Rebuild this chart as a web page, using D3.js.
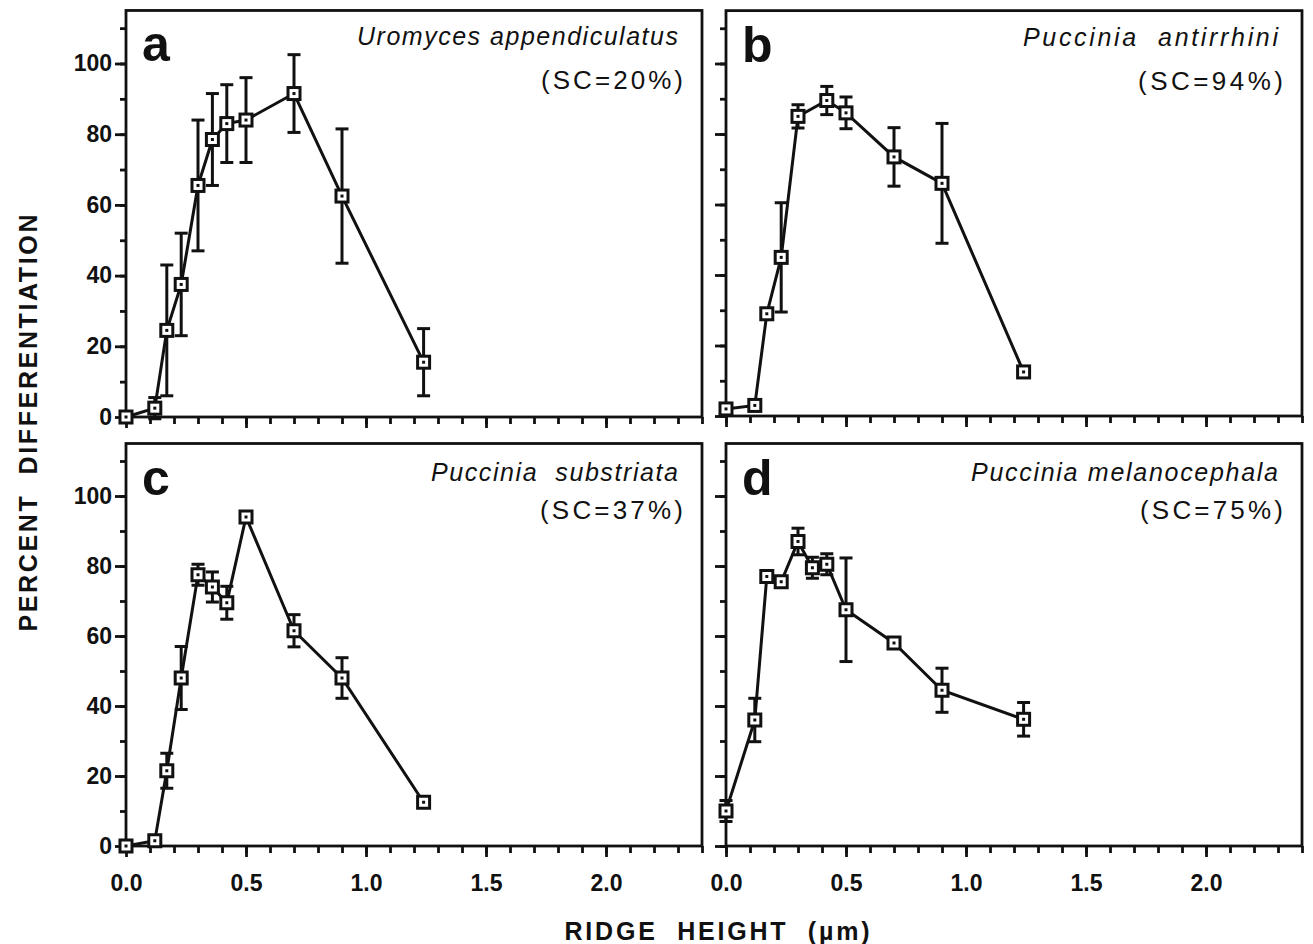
<!DOCTYPE html>
<html>

<head>
    <meta charset="UTF-8">
    <title>Ridge height</title>
    <style>
        body {
            margin: 0;
            background: #fff;
        }

        svg {
            display: block;
            font-family: 'Liberation Sans', Arial, Helvetica, sans-serif;
        }

        .axis path {
            display: none;
        }

        .axis line {
            stroke: #111;
            stroke-width: 2.8px;
        }

        .axis text {
            font-size: 23px;
            font-weight: bold;
            fill: #111;
        }

        .frame {
            fill: none;
            stroke: #111;
            stroke-width: 2.8px;
        }

        .line {
            fill: none;
            stroke: #111;
            stroke-width: 3px;
        }

        .err {
            stroke: #111;
            stroke-width: 3px;
        }

        .marker {
            fill: #fff;
            stroke: #111;
            stroke-width: 3px;
        }

        .species {
            font-size: 25px;
            font-style: italic;
            white-space: pre;
            fill: #111;
        }

        .sc {
            font-size: 26px;
            fill: #111;
        }

        .letter {
            font-size: 50px;
            font-weight: bold;
            fill: #111;
        }

        .title {
            font-size: 25px;
            font-weight: bold;
            white-space: pre;
            fill: #111;
        }
    </style>
</head>

<body>
    <script src="https://cdn.jsdelivr.net/npm/d3@7"></script>

    <script>
        // ridge height (um) of the sampled surfaces
        const ridgeHeight = [0, 0.12, 0.17, 0.23, 0.30, 0.36, 0.42, 0.50, 0.70, 0.90, 1.24];
        const ridgeHeightB = [0, 0.12, 0.17, 0.23, 0.30, 0.42, 0.50, 0.70, 0.90, 1.24];

        // percent differentiation, mean and error
        const meanA = [0, 2.5, 24.5, 37.5, 65.5, 78.5, 83, 84, 91.5, 62.5, 15.5];
        const errA = [0, 3, 18.5, 14.5, 18.5, 13, 11, 12, 11, 19, 9.5];

        const meanB = [2, 3, 29, 45, 85, 89.5, 86, 73.5, 66, 12.5];
        const errB = [0, 0, 0, 15.5, 3.3, 4, 4.5, 8.3, 17, 0];

        const meanC = [0, 1.5, 21.5, 48, 77.5, 74, 69.5, 94, 61.5, 48, 12.5];
        const errC = [0, 0, 5, 9, 3, 4.3, 4.7, 0, 4.6, 5.8, 0];

        const meanD = [10, 36, 77, 75.5, 87, 79.5, 80.5, 67.5, 58, 44.5, 36.2];
        const errD = [3, 6.2, 0, 0, 3.8, 3, 3, 14.8, 0, 6.3, 4.8];

        const letters = ['a', 'b', 'c', 'd'];
        const species = ['Uromyces appendiculatus', 'Puccinia  antirrhini', 'Puccinia  substriata', 'Puccinia melanocephala'];
        const scLabels = ['(SC=20%)', '(SC=94%)', '(SC=37%)', '(SC=75%)'];

        const xTicks = [0, 0.5, 1.0, 1.5, 2.0];
        const yTicks = [0, 20, 40, 60, 80, 100];

        const panels = [
            { x: ridgeHeight, mean: meanA, err: errA },
            { x: ridgeHeightB, mean: meanB, err: errB },
            { x: ridgeHeight, mean: meanC, err: errC },
            { x: ridgeHeight, mean: meanD, err: errD }
        ];

        // page layout of the four boxes
        const boxes = [
            { left: 126, zero: 417, hundred: 63.5, sp: 35, sc: 79, spLen: 321, scLen: 142, yLabels: true, xLabels: false },
            { left: 726, zero: 416, hundred: 63.5, sp: 35, sc: 79, spLen: 255, scLen: 145, yLabels: false, xLabels: false },
            { left: 126, zero: 846, hundred: 496, sp: 37, sc: 75, spLen: 247, scLen: 143, yLabels: true, xLabels: true },
            { left: 726, zero: 846, hundred: 496, sp: 37, sc: 75, spLen: 307, scLen: 143, yLabels: false, xLabels: true }
        ];

        const svg = d3.select('body')
            .append('svg')
            .attr('width', 1313)
            .attr('height', 944);

        panels.forEach((p, i) => drawPanel(p, boxes[i], i));

        function drawPanel(p, box, i) {
            const x = d3.scaleLinear()
                .domain([0, 2.4])
                .range([box.left, box.left + 576]);

            const y = d3.scaleLinear()
                .domain([0, 100])
                .range([box.zero, box.hundred]);

            const top = y(115);
            const g = svg.append('g');

            // minor ticks
            g.append('g')
                .attr('class', 'axis')
                .attr('transform', `translate(0,${ box.zero })`)
                .call(d3.axisBottom(x).tickValues(d3.range(25).map(k => k / 10)).tickSize(7).tickFormat(''));

            g.append('g')
                .attr('class', 'axis')
                .attr('transform', `translate(${ box.left },0)`)
                .call(d3.axisLeft(y).tickValues(d3.range(12).map(k => k * 10)).tickSize(6).tickFormat(''));

            // major ticks
            g.append('g')
                .attr('class', 'axis')
                .attr('transform', `translate(0,${ box.zero })`)
                .call(d3.axisBottom(x).tickValues(xTicks).tickSize(11).tickPadding(18)
                    .tickFormat(box.xLabels ? d3.format('.1f') : ''));

            g.append('g')
                .attr('class', 'axis')
                .attr('transform', `translate(${ box.left },0)`)
                .call(d3.axisLeft(y).tickValues(yTicks).tickSize(11).tickPadding(3)
                    .tickFormat(box.yLabels ? d => d : ''));

            g.append('rect')
                .attr('class', 'frame')
                .attr('x', box.left)
                .attr('y', top)
                .attr('width', 576)
                .attr('height', box.zero - top);

            const pts = p.x.map((h, k) => ({ h: h, v: p.mean[k], e: p.err[k] }));

            const lineGenerator = d3.line()
                .x(d => x(d.h))
                .y(d => y(d.v));

            g.append('path')
                .attr('class', 'line')
                .attr('d', lineGenerator(pts));

            const bars = g.append('g')
                .selectAll('g')
                .data(pts.filter(d => d.e > 0))
                .enter()
                .append('g');

            bars.append('line')
                .attr('class', 'err')
                .attr('x1', d => x(d.h))
                .attr('x2', d => x(d.h))
                .attr('y1', d => y(d.v - d.e))
                .attr('y2', d => y(d.v + d.e));

            [-1, 1].forEach(s => {
                bars.append('line')
                    .attr('class', 'err')
                    .attr('x1', d => x(d.h) - 6.5)
                    .attr('x2', d => x(d.h) + 6.5)
                    .attr('y1', d => y(d.v + s * d.e))
                    .attr('y2', d => y(d.v + s * d.e));
            });

            const marks = g.append('g')
                .selectAll('g')
                .data(pts)
                .enter()
                .append('g')
                .attr('transform', d => `translate(${ x(d.h) },${ y(d.v) })`);

            marks.append('rect')
                .attr('class', 'marker')
                .attr('x', -6)
                .attr('y', -6)
                .attr('width', 12)
                .attr('height', 12);

            marks.append('rect')
                .attr('x', -1.5)
                .attr('y', -1.5)
                .attr('width', 3)
                .attr('height', 3)
                .attr('fill', '#111');

            g.append('text')
                .attr('class', 'letter')
                .attr('x', box.left + 16)
                .attr('y', top + 51)
                .text(letters[i]);

            g.append('text')
                .attr('class', 'species')
                .attr('x', box.left + 576 - 24)
                .attr('y', top + box.sp)
                .attr('text-anchor', 'end')
                .attr('textLength', box.spLen)
                .attr('lengthAdjust', 'spacing')
                .text(species[i]);

            g.append('text')
                .attr('class', 'sc')
                .attr('x', box.left + 576 - 19)
                .attr('y', top + box.sc)
                .attr('text-anchor', 'end')
                .attr('textLength', box.scLen)
                .attr('lengthAdjust', 'spacing')
                .text(scLabels[i]);
        }

        svg.append('text')
            .attr('class', 'title')
            .attr('transform', 'translate(37,423) rotate(-90)')
            .attr('text-anchor', 'middle')
            .attr('textLength', 417)
            .attr('lengthAdjust', 'spacing')
            .text('PERCENT  DIFFERENTIATION');

        svg.append('text')
            .attr('class', 'title')
            .attr('x', 717)
            .attr('y', 940)
            .attr('text-anchor', 'middle')
            .attr('textLength', 305)
            .attr('lengthAdjust', 'spacing')
            .text('RIDGE  HEIGHT  (\u00b5m)');
    </script>
</body>

</html>
